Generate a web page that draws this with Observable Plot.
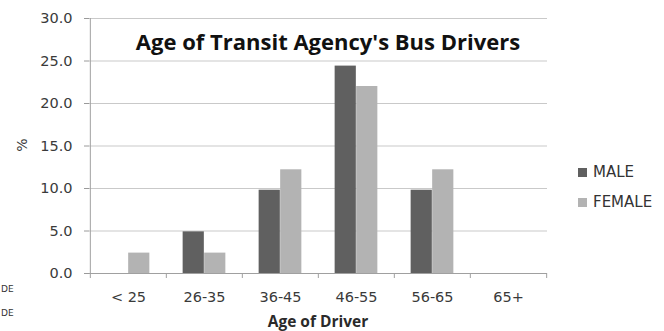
<!DOCTYPE html>
<html>
<head>
<meta charset="utf-8">
<script src="https://cdn.jsdelivr.net/npm/d3@7"></script>
<script src="https://cdn.jsdelivr.net/npm/@observablehq/plot@0.6"></script>
<style>
  body { margin: 0; background: #fff; }
  #chart { position: relative; width: 664px; height: 331px; overflow: hidden; font-family: "DejaVu Sans", sans-serif; }
  #chart svg text { fill: #3a3a3a; }
  .title { position: absolute; left: 99px; width: 458px; top: 26px; text-align: center; font: bold 22px "Open Sans", sans-serif; color: #111; white-space: nowrap; }
  .xlabel { position: absolute; left: 89px; width: 458px; top: 310px; text-align: center; font: bold 15.5px "Open Sans", sans-serif; color: #2a2a2a; }
  .ylabel { position: absolute; left: 15px; top: 137px; font: 14px "DejaVu Sans", sans-serif; color: #3a3a3a; transform: rotate(-90deg); }
  .legend { position: absolute; left: 578px; font: 15px "DejaVu Sans", sans-serif; color: #333; }
  .legend div { display: flex; align-items: center; height: 30px; }
  .legend span.sw { width: 9px; height: 9px; margin-right: 6px; display: inline-block; }
  .stub { position: absolute; left: 1px; font: 9px "DejaVu Sans", sans-serif; color: #333; }
</style>
</head>
<body>
<div id="chart"></div>
<script>
// Share of the agency's bus drivers by age band (%), split by sex
const ages = ["< 25", "26-35", "36-45", "46-55", "56-65", "65+"];
const male = [0, 4.9, 9.8, 24.4, 9.8, 0];
const female = [2.4, 2.4, 12.2, 22.0, 12.2, 0];
const series = ["MALE", "FEMALE"];
const colors = ["#606060", "#b3b3b3"];
const yTicks = [0, 5, 10, 15, 20, 25, 30];

const width = 664, height = 331;
const margin = {top: 18, right: 117, bottom: 58, left: 89};
const step = (width - margin.left - margin.right) / ages.length;
const gap = 0.218 * step;   // space between a band edge and its bar pair
const bar = 0.282 * step;   // width of one bar

const rows = ages.map((age, i) => ({age, male: male[i], female: female[i]}));

const plot = Plot.plot({
  width, height,
  marginTop: margin.top, marginRight: margin.right,
  marginBottom: margin.bottom, marginLeft: margin.left,
  style: {color: "#9a9a9a", fontFamily: "DejaVu Sans, sans-serif", fontSize: "14.5px", background: "transparent"},
  x: {domain: ages, padding: 0, tickSize: 0, tickPadding: 18, label: null},
  y: {domain: [0, 30], ticks: yTicks, tickFormat: d3.format(".1f"), tickSize: 5, tickPadding: 12, label: null},
  marks: [
    Plot.ruleY(yTicks.filter(d => d > 0), {stroke: "#c9c9c9"}),
    Plot.ruleY([0], {stroke: "#a0a0a0"}),
    // value axis line
    Plot.ruleX([ages[0]], {dx: -step / 2, y1: 30, y2: 0, stroke: "#a0a0a0"}),
    // category boundary ticks
    Plot.ruleX(ages, {dx: -step / 2, y1: 0, y2: 0, insetBottom: -5, stroke: "#a0a0a0"}),
    Plot.ruleX([ages[ages.length - 1]], {dx: step / 2, y1: 0, y2: 0, insetBottom: -5, stroke: "#a0a0a0"}),
    Plot.barY(rows, {x: "age", y: "male", fill: colors[0], insetLeft: gap, insetRight: step - gap - bar}),
    Plot.barY(rows, {x: "age", y: "female", fill: colors[1], insetLeft: gap + bar, insetRight: step - gap - 2 * bar})
  ]
});

const chart = document.getElementById("chart");
chart.appendChild(plot);

const title = document.createElement("div");
title.className = "title";
title.textContent = "Age of Transit Agency's Bus Drivers";
chart.appendChild(title);

const xlabel = document.createElement("div");
xlabel.className = "xlabel";
xlabel.textContent = "Age of Driver";
chart.appendChild(xlabel);

const ylabel = document.createElement("div");
ylabel.className = "ylabel";
ylabel.textContent = "%";
chart.appendChild(ylabel);

const legend = document.createElement("div");
legend.className = "legend";
legend.style.top = "157px";
series.forEach((name, i) => {
  const row = document.createElement("div");
  const sw = document.createElement("span");
  sw.className = "sw";
  sw.style.background = colors[i];
  row.appendChild(sw);
  row.appendChild(document.createTextNode(name));
  legend.appendChild(row);
});
chart.appendChild(legend);

[284, 308].forEach(top => {
  const s = document.createElement("div");
  s.className = "stub";
  s.style.top = top + "px";
  s.textContent = "DE";
  chart.appendChild(s);
});
</script>
</body>
</html>
